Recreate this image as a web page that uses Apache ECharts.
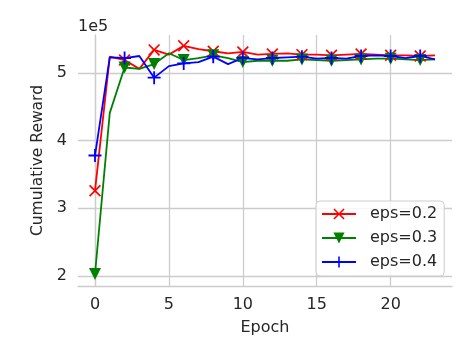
<!DOCTYPE html>
<html>
<head>
<meta charset="utf-8">
<script src="https://cdn.jsdelivr.net/npm/echarts@6/dist/echarts.min.js"></script>
<style>
html, body { margin: 0; padding: 0; background: #fff; }
#chart { width: 474px; height: 355px; }
</style>
</head>
<body>
<div id="chart"></div>
<script>
// cumulative reward per epoch, in units of 1e5
var epochs = [0, 1, 2, 3, 4, 5, 6, 7, 8, 9, 10, 11, 12, 13, 14, 15, 16, 17, 18, 19, 20, 21, 22, 23];
var eps02 = [3.26, 5.24, 5.19, 5.06, 5.34, 5.27, 5.40, 5.35, 5.32, 5.29, 5.31, 5.27, 5.28, 5.29, 5.27, 5.27, 5.26, 5.27, 5.28, 5.27, 5.26, 5.26, 5.25, 5.26];
var eps03 = [2.03, 4.41, 5.08, 5.06, 5.13, 5.29, 5.19, 5.22, 5.26, 5.22, 5.16, 5.18, 5.18, 5.18, 5.20, 5.19, 5.18, 5.19, 5.20, 5.21, 5.21, 5.20, 5.19, 5.20];
var eps04 = [3.78, 5.23, 5.22, 5.25, 4.93, 5.10, 5.14, 5.16, 5.24, 5.13, 5.22, 5.20, 5.22, 5.23, 5.24, 5.21, 5.22, 5.21, 5.25, 5.26, 5.25, 5.22, 5.25, 5.20];
var seriesNames = ["eps=0.2", "eps=0.3", "eps=0.4"];
var xTicks = [0, 5, 10, 15, 20];
var yTicks = [2, 3, 4, 5];

var FONT = "DejaVu Sans";
var TXT = "#262626";
var GRID = "#cccccc";

// marker shapes (matplotlib x and +)
var xMark = "path://M0,10L10,0L50,40L90,0L100,10L60,50L100,90L90,100L50,60L10,100L0,90L40,50Z";
var plusMark = "path://M43,0L57,0L57,43L100,43L100,57L57,57L57,100L43,100L43,57L0,57L0,43L43,43Z";

function pairs(vals) {
  return epochs.map(function (e, i) { return [e, vals[i]]; });
}
// markers only on every second point
function everyOther(size) {
  return function (val, params) { return params.dataIndex % 2 === 0 ? size : 0; };
}

function makeSeries(name, vals, color, symbol, size, rotate) {
  return {
    name: name,
    type: "line",
    data: pairs(vals),
    symbol: symbol,
    symbolSize: everyOther(size),
    symbolRotate: rotate || 0,
    showSymbol: true,
    showAllSymbol: true,
    lineStyle: { color: color, width: 1.8 },
    itemStyle: { color: color, borderWidth: 0 },
    animation: false,
    silent: true
  };
}

var option = {
  backgroundColor: "#fff",
  grid: { left: 78, right: 22, top: 35, bottom: 69 },
  xAxis: {
    type: "value",
    min: -1.15,
    max: 24.15,
    name: "Epoch",
    nameLocation: "middle",
    nameGap: 34,
    nameTextStyle: { fontFamily: FONT, fontSize: 16, color: TXT },
    axisLine: { show: true, lineStyle: { color: GRID, width: 1.3 } },
    axisTick: { show: false, customValues: xTicks },
    axisLabel: { customValues: xTicks, fontFamily: FONT, fontSize: 16, color: TXT, margin: 11 },
    splitLine: { show: true, lineStyle: { color: GRID, width: 1.3 } }
  },
  yAxis: {
    type: "value",
    min: 1.853,
    max: 5.56,
    name: "Cumulative Reward",
    nameLocation: "middle",
    nameGap: 30,
    nameTextStyle: { fontFamily: FONT, fontSize: 15.5, color: TXT },
    axisLine: { show: true, lineStyle: { color: GRID, width: 1.3 } },
    axisTick: { show: false, customValues: yTicks },
    axisLabel: { customValues: yTicks, fontFamily: FONT, fontSize: 16, color: TXT, margin: 11 },
    splitLine: { show: true, lineStyle: { color: GRID, width: 1.3 } }
  },
  legend: {
    data: seriesNames,
    orient: "vertical",
    left: 316,
    top: 201,
    itemWidth: 34,
    itemHeight: 14,
    itemGap: 8,
    padding: [5, 7, 6, 5],
    backgroundColor: "rgba(255,255,255,0.8)",
    borderColor: GRID,
    borderWidth: 1,
    borderRadius: 4,
    textStyle: { fontFamily: FONT, fontSize: 16, color: TXT, padding: [0, 0, 0, 9] }
  },
  graphic: [
    { type: "text", left: 78, top: 19, style: { text: "1e5", fontFamily: FONT, fontSize: 16, fill: TXT } }
  ],
  series: [
    makeSeries(seriesNames[0], eps02, "#ff0000", xMark, 12),
    makeSeries(seriesNames[1], eps03, "#008000", "triangle", 12, 180),
    makeSeries(seriesNames[2], eps04, "#0000ff", plusMark, 13)
  ]
};

var myChart = echarts.init(document.getElementById("chart"));
myChart.setOption(option);
</script>
</body>
</html>
